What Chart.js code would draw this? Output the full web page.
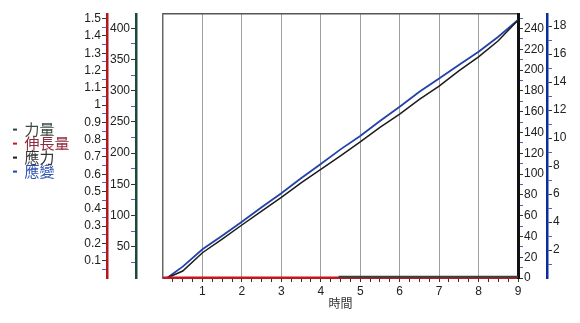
<!DOCTYPE html>
<html>
<head>
<meta charset="utf-8">
<script src="https://cdn.jsdelivr.net/npm/chart.js@4.4.1/dist/chart.umd.min.js"></script>
<style>
  html, body { margin: 0; padding: 0; background: #fff; }
</style>
</head>
<body>
<canvas id="chart" width="580" height="323"></canvas>
<script>
// series names (legend order)
var seriesNames = ["力量", "伸長量", "應力", "應變"];

// time axis samples for the stress / strain curves
var curveTime = [0.1, 0.5, 1, 1.5, 2, 2.5, 3, 3.5, 4, 4.5, 5, 5.5, 6, 6.5, 7, 7.5, 8, 8.5, 9];
var stressValues = [0, 6.7, 24.3, 37.5, 51, 64.4, 77.6, 91.6, 104.5, 117.6, 131, 144.9, 157.7, 171.8, 184.6, 199.3, 212.8, 228.2, 248];
var strainValues = [0, 0.81, 2.05, 3.02, 4.02, 5.05, 6.05, 7.12, 8.14, 9.19, 10.14, 11.21, 12.24, 13.31, 14.26, 15.21, 16.16, 17.24, 18.43];

// force and elongation stay on the floor
var forceTime = [4.45, 9];
var forceValues = [2, 2];
var elongTime = [0, 9];
var elongValues = [0, 0];

// tick labels
var xTicks = [1, 2, 3, 4, 5, 6, 7, 8, 9];
var elongTicks = [0.1, 0.2, 0.3, 0.4, 0.5, 0.6, 0.7, 0.8, 0.9, 1, 1.1, 1.2, 1.3, 1.4, 1.5];
var forceTicks = [50, 100, 150, 200, 250, 300, 350, 400];
var stressTicks = [0, 20, 40, 60, 80, 100, 120, 140, 160, 180, 200, 220, 240];
var strainTicks = [2, 4, 6, 8, 10, 12, 14, 16, 18];

// colours
var forceColor = "#33433c";
var elongColor = "#c8141e";
var stressColor = "#1b1b1b";
var strainColor = "#2342a8";

var sansFont = '"Liberation Sans", Arial, sans-serif';
var cjkFont = '"Noto Sans CJK TC", "Noto Sans CJK SC", sans-serif';
var padLeft = 13;
var legendWidth = 70;

Chart.defaults.font.family = sansFont;
Chart.defaults.font.size = 12;
Chart.defaults.color = "#222";

function pairs(xs, ys) {
    return xs.map(function (x, i) { return { x: x, y: ys[i] }; });
}

// major labelled ticks plus small unlabelled ones in between
function tickList(majors, minorStep, from, to) {
    var list = [];
    for (var v = from; v <= to + 1e-9; v += minorStep) {
        var r = Math.round(v * 1000) / 1000;
        var isMajor = majors.some(function (m) { return Math.abs(m - r) < 1e-6; });
        list.push({ value: r, isMajor: isMajor });
    }
    return list;
}

function labelOnlyMajor(value, index, ticks) {
    return ticks[index].isMajor ? String(+value.toFixed(2)) : "";
}

function tickShade(ctx) {
    return ctx.tick && ctx.tick.isMajor ? "#333" : "#4a68b8";
}

function yAxis(pos, weight, max, majors, minorStep, from, lineColor, lineWidth, width) {
    return {
        type: "linear",
        position: pos,
        weight: weight,
        min: 0,
        max: max,
        afterBuildTicks: function (axis) { axis.ticks = tickList(majors, minorStep, from, max); },
        afterFit: function (axis) { axis.width = width; },
        grid: { drawOnChartArea: false, tickLength: 5, tickColor: tickShade, tickWidth: 1 },
        border: { color: lineColor, width: lineWidth },
        ticks: { autoSkip: false, padding: 1, callback: labelOnlyMajor, color: "#222" }
    };
}

// the CJK legend text gets measured too narrow, so give the legend a fixed width
var legendWidthFix = {
    id: "legendWidthFix",
    beforeLayout: function (chart) {
        var lg = chart.legend;
        if (lg && !lg._widthFixed) {
            var fit = lg.fit;
            lg.fit = function () {
                fit.call(this);
                this.width = legendWidth;
            };
            lg._widthFixed = true;
        }
    }
};

var ctx = document.getElementById("chart").getContext("2d");
var chart = new Chart(ctx, {
    type: "line",
    data: {
        datasets: [
            { label: seriesNames[0], data: pairs(forceTime, forceValues), yAxisID: "yForce", borderColor: forceColor, backgroundColor: forceColor, borderWidth: 2 },
            { label: seriesNames[1], data: pairs(elongTime, elongValues), yAxisID: "yElong", borderColor: elongColor, backgroundColor: elongColor, borderWidth: 3 },
            { label: seriesNames[2], data: pairs(curveTime, stressValues), yAxisID: "yStress", borderColor: stressColor, backgroundColor: stressColor, borderWidth: 1.5 },
            { label: seriesNames[3], data: pairs(curveTime, strainValues), yAxisID: "yStrain", borderColor: strainColor, backgroundColor: strainColor, borderWidth: 1.8 }
        ]
    },
    plugins: [legendWidthFix],
    options: {
        responsive: false,
        animation: false,
        layout: { padding: { left: padLeft, right: 0, top: 14, bottom: 12 } },
        elements: { point: { radius: 0 }, line: { tension: 0 } },
        plugins: {
            tooltip: { enabled: false },
            legend: {
                position: "left",
                fullSize: false,
                title: { display: true, text: " ", font: { size: 6 }, padding: 1 },
                labels: {
                    font: { size: 15, family: cjkFont },
                    boxWidth: 5,
                    boxHeight: 2,
                    padding: -1,
                    generateLabels: function (chart) {
                        var items = Chart.defaults.plugins.legend.labels.generateLabels(chart);
                        var textColors = ["#3c4a44", "#8e2a3c", "#333", "#2d52b0"];
                        items.forEach(function (it, i) {
                            it.lineWidth = 0;
                            it.fontColor = textColors[i];
                        });
                        return items;
                    }
                }
            }
        },
        scales: {
            x: {
                type: "linear",
                position: "bottom",
                min: 0,
                max: 9,
                afterBuildTicks: function (axis) { axis.ticks = tickList(xTicks, 0.25, 0.25, 9); },
                afterFit: function (axis) { axis.height = 33; },
                grid: {
                    color: function (c) { return c.tick && c.tick.isMajor ? "#a0a0a0" : "rgba(0,0,0,0)"; },
                    tickColor: "#333",
                    tickLength: 4
                },
                border: { color: elongColor, width: 2 },
                ticks: { autoSkip: false, maxRotation: 0, padding: 2, callback: labelOnlyMajor, color: "#222" },
                title: { display: true, text: "時間", font: { size: 12, family: cjkFont }, color: "#333", padding: 0 }
            },
            xTop: {
                type: "linear",
                position: "top",
                min: 0,
                max: 9,
                afterFit: function (axis) { axis.height = 0; },
                grid: { display: false },
                ticks: { display: false },
                border: { color: "#555", width: 1.5 }
            },
            yElong: yAxis("left", 3, 1.527, elongTicks, 0.05, 0.05, "#b3161f", 2.5, 107 - legendWidth - padLeft),
            yForce: yAxis("left", 2, 423, forceTicks, 25, 25, "#1d4a38", 2.5, 29),
            ySpace: {
                type: "linear",
                position: "left",
                weight: 1,
                afterFit: function (axis) { axis.width = 27; },
                grid: { display: false },
                ticks: { display: false },
                border: { color: "#666", width: 1.5 }
            },
            yStress: yAxis("right", 0, 254, stressTicks, 10, 0, "#111", 3, 29),
            yStrain: yAxis("right", 1, 18.86, strainTicks, 1, 1, "#0c2c9c", 2.5, 33)
        }
    }
});
</script>
</body>
</html>
